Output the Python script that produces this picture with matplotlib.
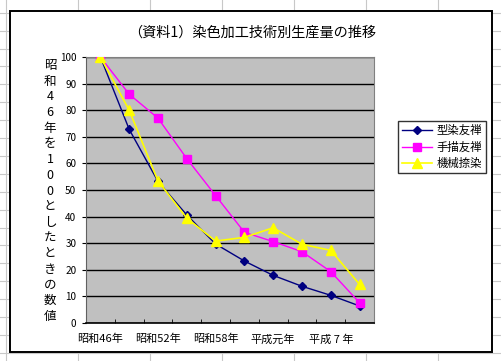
import matplotlib
matplotlib.use("Agg")
import matplotlib.pyplot as plt
from matplotlib.lines import Line2D
from matplotlib.patches import Rectangle

plt.rcParams['font.family'] = ['Noto Sans CJK JP', 'DejaVu Sans']

categories = ["昭和46年", "昭和49年", "昭和52年", "昭和55年", "昭和58年",
              "昭和61年", "平成元年", "平成4年", "平成7年", "平成10年"]
tick_labels = ["昭和46年", "昭和52年", "昭和58年", "平成元年", "平成 7 年"]
series_names = ["型染友禅", "手描友禅", "機械捺染"]
katazome = [100, 72.8, 53.2, 40.6, 29.7, 23.3, 17.9, 13.8, 10.4, 6.4]
tegaki = [100, 86.0, 77.0, 61.8, 47.9, 34.1, 30.6, 26.8, 19.3, 7.6]
kikai = [100, 80.0, 53.4, 39.4, 30.8, 32.2, 35.8, 29.6, 27.3, 14.5]
title = "（資料1）染色加工技術別生産量の推移"
ylabel = "昭和46年を100としたときの数値"

W, H = 501, 361
fig = plt.figure(figsize=(W / 100, H / 100), dpi=100)
fig.patch.set_facecolor("white")

def fx(px):
    return px / W

def fy(py):
    return 1 - py / H

# Excel cell grid in the background
for xv in [6, 78, 150, 222, 294, 366, 438]:
    fig.add_artist(Line2D([fx(xv), fx(xv)], [0, 1], color="#c8c8c8", lw=0.8, zorder=0))
yv = 12.7
while yv < H:
    fig.add_artist(Line2D([0, 1], [fy(yv), fy(yv)], color="#c8c8c8", lw=0.8, zorder=0))
    yv += 17.9

# chart area
fig.add_artist(Rectangle((fx(10), fy(352)), fx(492) - fx(10), fy(11) - fy(352),
                         transform=fig.transFigure, facecolor="white",
                         edgecolor="black", lw=1.4, zorder=1))

ax = fig.add_axes([fx(86), fy(323), fx(374) - fx(86), fy(57) - fy(323)])
ax.set_zorder(2)
ax.set_facecolor("#c0c0c0")
x = list(range(len(categories)))

ax.plot(x, katazome, color="#000080", lw=1, marker="D", ms=4.5,
        mfc="#000080", mec="#000080", label=series_names[0], zorder=3)
ax.plot(x, tegaki, color="#ff00ff", lw=1, marker="s", ms=6,
        mfc="#ff00ff", mec="#ff00ff", label=series_names[1], zorder=3)
ax.plot(x, kikai, color="#ffff00", lw=1.2, marker="^", ms=7,
        mfc="#ffff00", mec="#ffff00", label=series_names[2], zorder=4)

ax.set_xlim(-0.5, len(categories) - 0.5)
ax.set_ylim(0, 100)
ax.set_yticks(range(0, 101, 10))
ax.yaxis.grid(True, color="black", lw=1)
ax.set_axisbelow(True)
ax.tick_params(axis="y", labelsize=7.2, length=3, pad=4, direction="out")

ax.set_xticks([0, 2, 4, 6, 8])
ax.set_xticklabels(tick_labels, fontsize=8)
ax.set_xticks([i - 0.5 for i in range(len(categories) + 1)], minor=True)
ax.tick_params(axis="x", which="major", length=0, pad=8)
ax.tick_params(axis="x", which="minor", length=3, direction="in", color="black")

for s in ["top", "right"]:
    ax.spines[s].set_color("#808080")
ax.spines["left"].set_color("#606060")
ax.spines["bottom"].set_color("black")
ax.spines["bottom"].set_linewidth(1.2)

fig.text(fx(252), fy(33), title, ha="center", va="center", fontsize=10.2)
fig.text(fx(50), fy(191), "\n".join(ylabel), ha="center", va="center",
         fontsize=9, linespacing=1.27, multialignment="center")

leg = fig.legend(loc="upper left", bbox_to_anchor=(fx(398), fy(121)),
                 fontsize=8.2, frameon=True, fancybox=False, edgecolor="black",
                 borderpad=0.35, labelspacing=0.45, handlelength=2.6,
                 handletextpad=0.4, borderaxespad=0)
leg.get_frame().set_linewidth(1)
leg.set_zorder(5)

fig.savefig("out.png", dpi=100)
